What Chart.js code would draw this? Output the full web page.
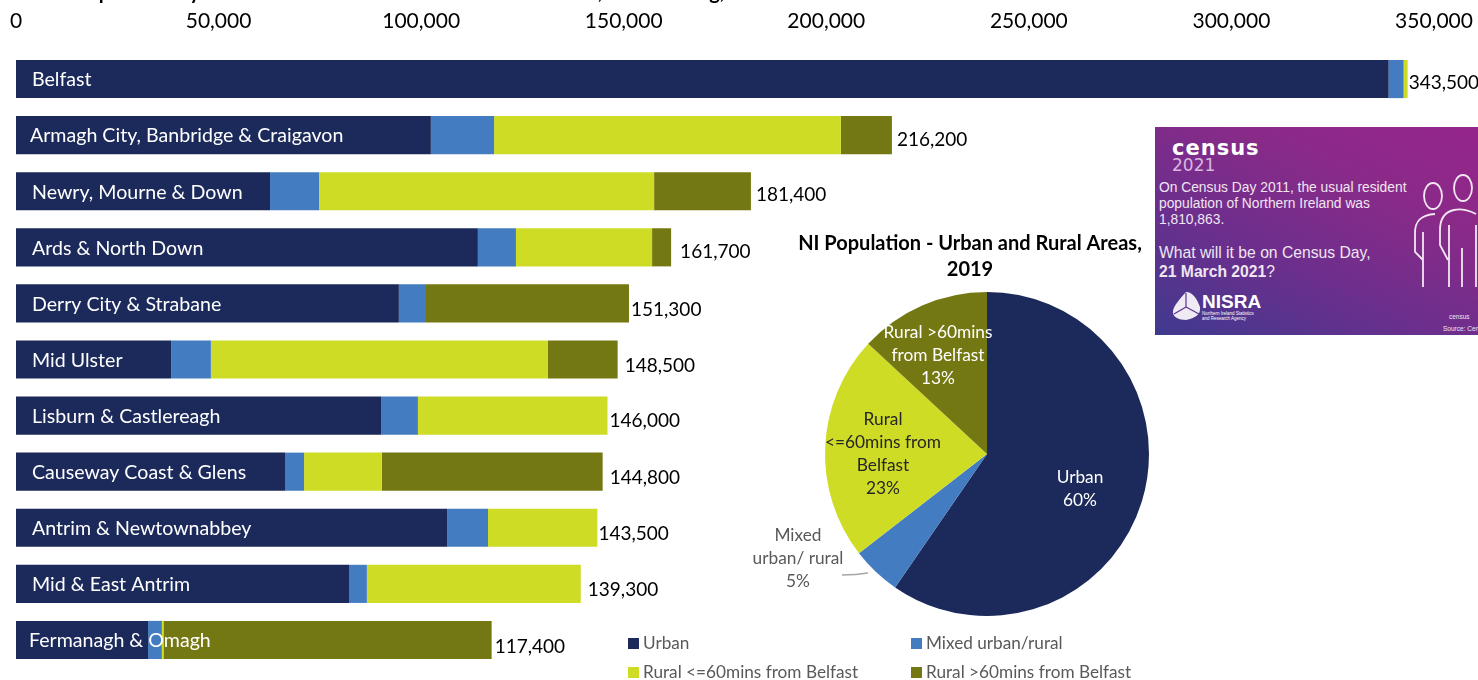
<!DOCTYPE html>
<html><head><meta charset="utf-8">
<style>
html,body{margin:0;padding:0;background:#fff;width:1478px;height:680px;overflow:hidden;position:relative;font-family:Lato,sans-serif}
canvas{position:absolute;left:0;top:0}
#hdr{position:absolute;top:-21px;left:-20px;white-space:nowrap;font:bold 20px Lato;color:#000;word-spacing:1.5px}
#card{position:absolute;left:1155px;top:127px;width:323px;height:208px;overflow:hidden;background:linear-gradient(25deg,#3f3a8f 0%,#6a2f8d 35%,#8a2a88 70%,#95258a 100%);color:#f0e6f2;font-family:"Liberation Sans",sans-serif}
#card div{position:absolute;white-space:nowrap}
.lg{position:absolute;font:17.2px Lato;color:#595959;white-space:nowrap;line-height:18px}
.lg i{position:absolute;width:11px;height:11px;left:-15px;top:4px}
</style></head><body>
<canvas id="bars" width="1478" height="680"></canvas>
<canvas id="pie" width="1478" height="680"></canvas>
<div id="hdr">Mid-2019 Population by Local Government District and Urban/Rural, in a Ranking, 2019</div>
<div id="card">
<div style="left:17px;top:9px;font:bold 21px 'DejaVu Sans';letter-spacing:1px;color:#fff">census</div>
<div style="left:17px;top:28px;font:17px 'DejaVu Sans';color:#d9b8e0">2021</div>
<div style="left:4px;top:53px;font:13.8px/16px 'Liberation Sans'">On Census Day 2011, the usual resident<br>population of Northern Ireland was<br>1,810,863.</div>
<div style="left:4px;top:116px;font:15.7px/19px 'Liberation Sans'">What will it be on Census Day,<br><b>21 March 2021</b>?</div>
<div style="left:47px;top:164px;font:bold 19px 'Liberation Sans';color:#fff">NISRA</div>
<div style="left:47px;top:184px;font:4.5px/5px 'Liberation Sans';color:#fff">Northern Ireland Statistics<br>and Research Agency</div>
<div style="left:294px;top:186px;font:6.5px 'Liberation Sans'">census</div>
<div style="left:288px;top:198px;font:6.5px 'Liberation Sans'">Source: Census</div>
<svg style="position:absolute;left:0;top:0" width="323" height="208" fill="none" stroke="#f3e6f3" stroke-width="1.8">
<ellipse cx="278" cy="69" rx="9" ry="13"/><ellipse cx="308" cy="61" rx="9" ry="13"/>
<path d="M280 87C265 88 260 95 260 106V125L268 133M268 105V160M321 87C310 80 285 78 285 103V118L293 133M294 98V160M307 121V160M321 98V160"/>
<path d="M31 165C38 165 42 172 45 180C46 188 40 191 31 193C24 193 17 190 18 184C19 178 25 172 31 165Z" fill="#f0eaf4" stroke="none"/>
<path d="M31 180V166M31 180L19 187M31 180L44 187" stroke="#5a3390" stroke-width="1.2"/>
</svg>
</div>
<script src="https://cdn.jsdelivr.net/npm/chart.js@4"></script>
<script>
const categories=["Belfast","Armagh City, Banbridge & Craigavon","Newry, Mourne & Down","Ards & North Down","Derry City & Strabane","Mid Ulster","Lisburn & Castlereagh","Causeway Coast & Glens","Antrim & Newtownabbey","Mid & East Antrim","Fermanagh & Omagh"];
const urban=[338800,102400,62700,114000,94500,38300,90100,66400,106400,82200,32600];
const mixed=[3700,15600,12100,9400,6700,9800,9100,4700,10100,4400,3400];
const ruralNear=[1000,85600,82700,33600,0,83200,46800,19200,27000,52800,400];
const ruralFar=[0,12600,23900,4700,50100,17200,0,54500,0,0,81000];
const totals=["343,500","216,200","181,400","161,700","151,300","148,500","146,000","144,800","143,500","139,300","117,400"];
const totalOffsets=[1,5,5,9,2,7,2,7,1,7,3];
const totalLifts=[4,5,4,5,6,6,5,6,6,6,7];
const nameOffsets=[16,14,16,16,16,16,16,16,16,16,13];
const xTicks=[0,50000,100000,150000,200000,250000,300000,350000];
const seriesNames=["Urban","Mixed urban/rural","Rural <=60mins from Belfast","Rural >60mins from Belfast"];
const colors=["#1b2a5a","#437cc0","#cfdc26","#747812"];
const pieValues=[59.6,4.9,22.4,13.1];
const pieLabels=[["Urban","60%"],["Mixed","urban/ rural","5%"],["Rural","<=60mins from","Belfast","23%"],["Rural >60mins","from Belfast","13%"]];
const pieTextColors=["#fff","#595959","#262626","#fff"];
const pieLabelOffsets=[[93,35],[-189,104],[-104,0],[-49,-99]];
const pieTitle=["NI Population - Urban and Rural Areas,","2019"];

const barLabels={id:'barLabels',afterDatasetsDraw(c){
 const x=c.scales.x,y=c.scales.y,g=c.ctx;g.save();g.textBaseline='middle';g.textAlign='left';
 categories.forEach((n,i)=>{const py=y.getPixelForValue(i);
  g.font='19.6px Lato';g.fillStyle='#fff';g.fillText(n,x.left+nameOffsets[i],py+1);
  const sum=urban[i]+mixed[i]+ruralNear[i]+ruralFar[i];
  g.font='19px Lato';g.fillStyle='#000';g.fillText(totals[i],x.getPixelForValue(sum)+totalOffsets[i],py+totalLifts[i]);
 });g.restore();}};

new Chart(document.getElementById('bars'),{type:'bar',
 data:{labels:categories,datasets:[urban,mixed,ruralNear,ruralFar].map((d,i)=>({label:seriesNames[i],data:d,backgroundColor:colors[i],barPercentage:0.68,categoryPercentage:1}))},
 options:{indexAxis:'y',responsive:false,animation:false,
  layout:{padding:{left:16,right:44,top:0,bottom:12}},
  plugins:{legend:{display:false},tooltip:{enabled:false}},
  scales:{
   x:{position:'top',stacked:true,min:0,max:350000,
      afterBuildTicks(a){a.ticks=xTicks.map(v=>({value:v}))},
      afterFit(a){a.height=51;a.paddingLeft=0;a.paddingRight=0;},
      grid:{display:false,drawTicks:false},border:{display:false},
      ticks:{color:'#000',font:{family:'Lato',size:21},maxRotation:0,autoSkip:false,padding:17,callback:v=>v.toLocaleString('en-GB')}},
   y:{stacked:true,grid:{display:false,drawTicks:false},border:{display:false},ticks:{display:false}}
  }},plugins:[barLabels]});

const pieDecor={id:'pieDecor',afterDatasetsDraw(c){
 const g=c.ctx,m=c.getDatasetMeta(0).data,o=m[0];g.save();g.font='17.3px Lato';g.textAlign='center';g.textBaseline='middle';
 m.forEach((a,i)=>{const cx=a.x+pieLabelOffsets[i][0],cy=a.y+pieLabelOffsets[i][1],ls=pieLabels[i];
  g.fillStyle=pieTextColors[i];
  ls.forEach((t,k)=>g.fillText(t,cx,cy+(k-(ls.length-1)/2)*23));
  if(i===1){g.strokeStyle='#a6a6a6';g.lineWidth=1.3;g.beginPath();g.moveTo(cx+44,cy+17);g.quadraticCurveTo(cx+58,cy+17,cx+70,cy+15);g.stroke();}
 });
 g.fillStyle='#000';g.font='bold 20px Lato';
 pieTitle.forEach((t,k)=>g.fillText(t,o.x-17,o.y-210+k*25.5));
 g.restore();}};
new Chart(document.getElementById('pie'),{type:'pie',
 data:{labels:seriesNames,datasets:[{data:pieValues,backgroundColor:colors,borderWidth:0}]},
 options:{responsive:false,animation:false,radius:162,
  layout:{padding:{left:496,right:0,top:228,bottom:0}},
  plugins:{legend:{display:false},tooltip:{enabled:false}}},
 plugins:[pieDecor]});

const legendSlots=[[643,643],[926,643],[643,672],[926,672]];
seriesNames.forEach((n,i)=>{const d=document.createElement('div');d.className='lg';d.style.left=legendSlots[i][0]+'px';d.style.top=(legendSlots[i][1]-9)+'px';
 d.innerHTML='<i style="background:'+colors[i]+'"></i>';d.appendChild(document.createTextNode(n));document.body.appendChild(d);});
</script>
</body></html>
